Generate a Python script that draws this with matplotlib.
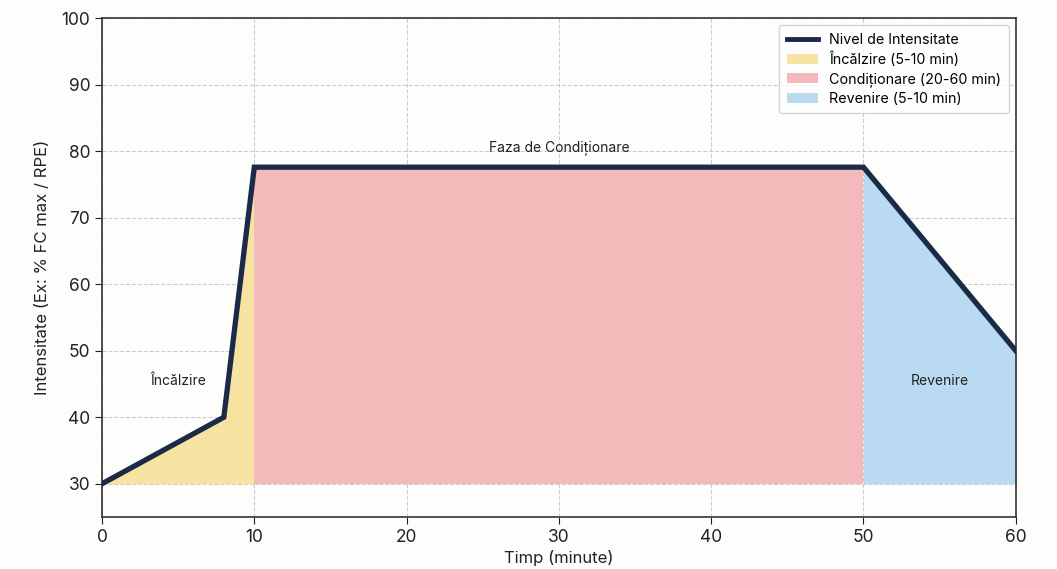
import matplotlib
matplotlib.use("Agg")
import matplotlib.pyplot as plt
from matplotlib.patches import Patch
from matplotlib.lines import Line2D
import numpy as np

plt.rcParams['font.family'] = ['Inter', 'DejaVu Sans']

# Data
time_points = [0, 8, 10, 50, 60]
intensity = [30, 40, 77.6, 77.6, 50]
baseline = 30
phase_bounds = {"warm": (0, 10), "cond": (10, 50), "cool": (50, 60)}
legend_labels = ["Nivel de Intensitate", "Încălzire (5-10 min)",
                 "Condiționare (20-60 min)", "Revenire (5-10 min)"]
phase_names = ["Încălzire", "Faza de Condiționare", "Revenire"]
phase_label_pos = [(5, 45.5), (30, 80.5), (55, 45.5)]

line_color = "#1b2a47"
c_warm = "#f7e3a1"
c_cond = "#f2baba"
c_cool = "#badaf1"

fig = plt.figure(figsize=(10.57, 5.69), dpi=100)
fig.patch.set_facecolor("#fdfdfb")
ax = fig.add_axes([0.0965, 0.0914, 0.8645, 0.8766])
ax.set_facecolor("#fdfdfb")

x = np.array(time_points, dtype=float)
y = np.array(intensity, dtype=float)

def seg(lo, hi):
    xs = np.linspace(lo, hi, 400)
    return xs, np.interp(xs, x, y)

for (lo, hi), c in zip(phase_bounds.values(), [c_warm, c_cond, c_cool]):
    xs, ys = seg(lo, hi)
    ax.fill_between(xs, baseline, ys, color=c, lw=0, zorder=1)

ax.plot(x, y, color=line_color, lw=3.8, zorder=3, solid_joinstyle='miter')

for name, (px, py) in zip(phase_names, phase_label_pos):
    ax.text(px, py, name, ha='center', va='center', fontsize=10, color="#222222", zorder=4)

ax.set_xlim(0, 60)
ax.set_ylim(25, 100)
ax.set_xticks([0, 10, 20, 30, 40, 50, 60])
ax.set_yticks([30, 40, 50, 60, 70, 80, 90, 100])
ax.tick_params(labelsize=12.5, colors="#222222", length=5)
ax.grid(True, linestyle='--', color='#cccccc', lw=0.8, zorder=0)
ax.set_axisbelow(True)
for s in ax.spines.values():
    s.set_color("#333333")
    s.set_linewidth(1.2)

ax.set_xlabel("Timp (minute)", fontsize=12, color="#222222", labelpad=3)
ax.set_ylabel("Intensitate (Ex: % FC max / RPE)", fontsize=12, color="#222222", labelpad=8)

handles = [Line2D([0], [0], color=line_color, lw=3.5),
           Patch(facecolor=c_warm, edgecolor='none'),
           Patch(facecolor=c_cond, edgecolor='none'),
           Patch(facecolor=c_cool, edgecolor='none')]
leg = ax.legend(handles, legend_labels, loc='upper right', fontsize=10.3,
                frameon=True, fancybox=True, borderpad=0.5, labelspacing=0.35,
                handlelength=2.2)
leg.get_frame().set_edgecolor("#cccccc")

fig.savefig("out.png", dpi=100, facecolor=fig.get_facecolor())
